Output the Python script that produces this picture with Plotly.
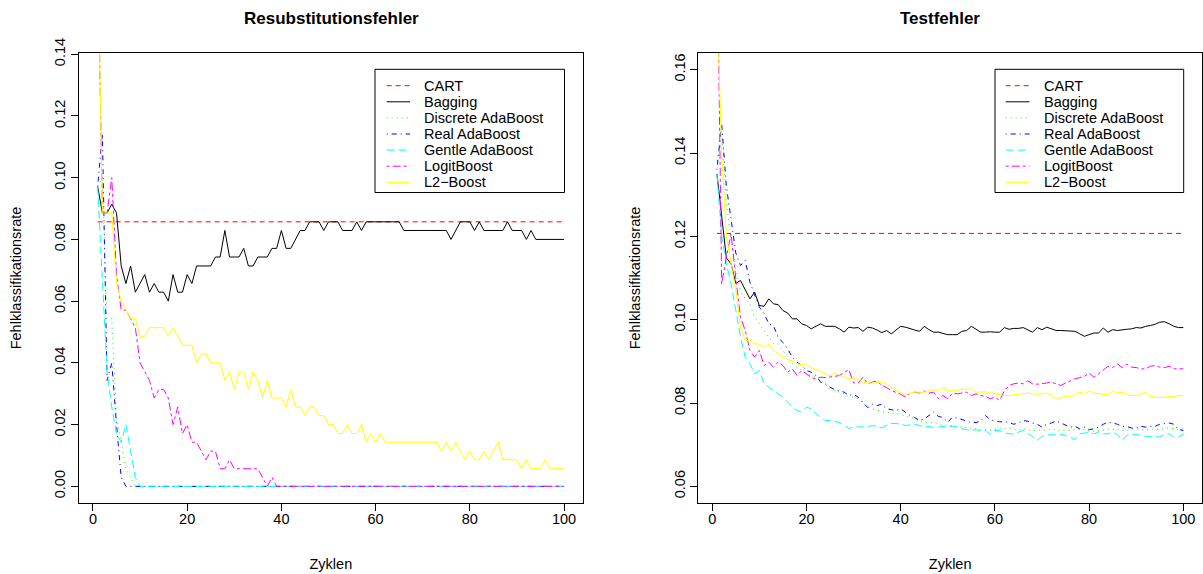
import plotly.graph_objects as go

# ---------------- data ----------------
zyklen = list(range(1, 101))
methods = ["CART", "Bagging", "Discrete AdaBoost", "Real AdaBoost",
           "Gentle AdaBoost", "LogitBoost", "L2\u2212Boost"]

cart_resub = 0.0857
cart_test = 0.1207

bagging_resub = [
    0.0971, 0.0886, 0.0886, 0.0914, 0.0886, 0.0714, 0.0657, 0.0714, 0.0629, 0.0657,
    0.0686, 0.0629, 0.0657, 0.0629, 0.0629, 0.0600, 0.0686, 0.0629, 0.0629, 0.0686,
    0.0657, 0.0714, 0.0714, 0.0714, 0.0714, 0.0743, 0.0743, 0.0829, 0.0743, 0.0743,
    0.0743, 0.0771, 0.0714, 0.0714, 0.0743, 0.0743, 0.0743, 0.0771, 0.0771, 0.0829,
    0.0771, 0.0771, 0.0800, 0.0829, 0.0829, 0.0857, 0.0857, 0.0857, 0.0829, 0.0857,
    0.0857, 0.0857, 0.0829, 0.0829, 0.0829, 0.0857, 0.0829, 0.0857, 0.0857, 0.0857,
    0.0857, 0.0857, 0.0857, 0.0857, 0.0857, 0.0829, 0.0829, 0.0829, 0.0829, 0.0829,
    0.0829, 0.0829, 0.0829, 0.0829, 0.0829, 0.0800, 0.0829, 0.0857, 0.0857, 0.0857,
    0.0829, 0.0857, 0.0829, 0.0829, 0.0829, 0.0829, 0.0829, 0.0857, 0.0829, 0.0829,
    0.0829, 0.0800, 0.0829, 0.0800, 0.0800, 0.0800, 0.0800, 0.0800, 0.0800, 0.0800]

discrete_resub = [
    0.0971, 0.1000, 0.0543, 0.0543, 0.0229, 0.0143, 0.0057, 0.0029, 0.0, 0.0,
    0.0, 0.0, 0.0, 0.0, 0.0, 0.0, 0.0, 0.0, 0.0, 0.0,
    0.0, 0.0, 0.0, 0.0, 0.0, 0.0, 0.0, 0.0, 0.0, 0.0,
    0.0, 0.0, 0.0, 0.0, 0.0, 0.0, 0.0, 0.0, 0.0, 0.0,
    0.0, 0.0, 0.0, 0.0, 0.0, 0.0, 0.0, 0.0, 0.0, 0.0,
    0.0, 0.0, 0.0, 0.0, 0.0, 0.0, 0.0, 0.0, 0.0, 0.0,
    0.0, 0.0, 0.0, 0.0, 0.0, 0.0, 0.0, 0.0, 0.0, 0.0,
    0.0, 0.0, 0.0, 0.0, 0.0, 0.0, 0.0, 0.0, 0.0, 0.0,
    0.0, 0.0, 0.0, 0.0, 0.0, 0.0, 0.0, 0.0, 0.0, 0.0,
    0.0, 0.0, 0.0, 0.0, 0.0, 0.0, 0.0, 0.0, 0.0, 0.0]

real_resub = [
    0.0971, 0.1143, 0.0343, 0.0400, 0.0200, 0.0029, 0.0, 0.0, 0.0, 0.0,
    0.0, 0.0, 0.0, 0.0, 0.0, 0.0, 0.0, 0.0, 0.0, 0.0,
    0.0, 0.0, 0.0, 0.0, 0.0, 0.0, 0.0, 0.0, 0.0, 0.0,
    0.0, 0.0, 0.0, 0.0, 0.0, 0.0, 0.0, 0.0, 0.0, 0.0,
    0.0, 0.0, 0.0, 0.0, 0.0, 0.0, 0.0, 0.0, 0.0, 0.0,
    0.0, 0.0, 0.0, 0.0, 0.0, 0.0, 0.0, 0.0, 0.0, 0.0,
    0.0, 0.0, 0.0, 0.0, 0.0, 0.0, 0.0, 0.0, 0.0, 0.0,
    0.0, 0.0, 0.0, 0.0, 0.0, 0.0, 0.0, 0.0, 0.0, 0.0,
    0.0, 0.0, 0.0, 0.0, 0.0, 0.0, 0.0, 0.0, 0.0, 0.0,
    0.0, 0.0, 0.0, 0.0, 0.0, 0.0, 0.0, 0.0, 0.0, 0.0]

gentle_resub = [
    0.0971, 0.0657, 0.0371, 0.0257, 0.0171, 0.0143, 0.0200, 0.0114, 0.0029, 0.0,
    0.0, 0.0, 0.0, 0.0, 0.0, 0.0, 0.0, 0.0, 0.0, 0.0,
    0.0, 0.0, 0.0, 0.0, 0.0, 0.0, 0.0, 0.0, 0.0, 0.0,
    0.0, 0.0, 0.0, 0.0, 0.0, 0.0, 0.0, 0.0, 0.0, 0.0,
    0.0, 0.0, 0.0, 0.0, 0.0, 0.0, 0.0, 0.0, 0.0, 0.0,
    0.0, 0.0, 0.0, 0.0, 0.0, 0.0, 0.0, 0.0, 0.0, 0.0,
    0.0, 0.0, 0.0, 0.0, 0.0, 0.0, 0.0, 0.0, 0.0, 0.0,
    0.0, 0.0, 0.0, 0.0, 0.0, 0.0, 0.0, 0.0, 0.0, 0.0,
    0.0, 0.0, 0.0, 0.0, 0.0, 0.0, 0.0, 0.0, 0.0, 0.0,
    0.0, 0.0, 0.0, 0.0, 0.0, 0.0, 0.0, 0.0, 0.0, 0.0]

logit_resub = [
    0.1750, 0.0886, 0.0886, 0.1000, 0.0686, 0.0571, 0.0571, 0.0543, 0.0514, 0.0400,
    0.0371, 0.0343, 0.0286, 0.0314, 0.0314, 0.0286, 0.0200, 0.0257, 0.0171, 0.0200,
    0.0143, 0.0143, 0.0114, 0.0086, 0.0114, 0.0114, 0.0057, 0.0057, 0.0086, 0.0057,
    0.0057, 0.0057, 0.0057, 0.0057, 0.0057, 0.0029, 0.0, 0.0029, 0.0, 0.0,
    0.0, 0.0, 0.0, 0.0, 0.0, 0.0, 0.0, 0.0, 0.0, 0.0,
    0.0, 0.0, 0.0, 0.0, 0.0, 0.0, 0.0, 0.0, 0.0, 0.0,
    0.0, 0.0, 0.0, 0.0, 0.0, 0.0, 0.0, 0.0, 0.0, 0.0,
    0.0, 0.0, 0.0, 0.0, 0.0, 0.0, 0.0, 0.0, 0.0, 0.0,
    0.0, 0.0, 0.0, 0.0, 0.0, 0.0, 0.0, 0.0, 0.0, 0.0,
    0.0, 0.0, 0.0, 0.0, 0.0, 0.0, 0.0, 0.0, 0.0, 0.0]

l2_resub = [
    0.1800, 0.0886, 0.0886, 0.0886, 0.0657, 0.0600, 0.0571, 0.0543, 0.0543, 0.0486,
    0.0486, 0.0514, 0.0514, 0.0514, 0.0514, 0.0486, 0.0514, 0.0486, 0.0457, 0.0457,
    0.0457, 0.0400, 0.0429, 0.0429, 0.0400, 0.0400, 0.0400, 0.0343, 0.0371, 0.0314,
    0.0371, 0.0371, 0.0314, 0.0371, 0.0343, 0.0286, 0.0343, 0.0286, 0.0286, 0.0286,
    0.0257, 0.0314, 0.0257, 0.0257, 0.0229, 0.0257, 0.0257, 0.0229, 0.0229, 0.0200,
    0.0200, 0.0171, 0.0171, 0.0200, 0.0171, 0.0171, 0.0200, 0.0143, 0.0171, 0.0143,
    0.0171, 0.0143, 0.0143, 0.0143, 0.0143, 0.0143, 0.0143, 0.0143, 0.0143, 0.0143,
    0.0143, 0.0143, 0.0143, 0.0114, 0.0143, 0.0114, 0.0143, 0.0114, 0.0086, 0.0114,
    0.0086, 0.0086, 0.0114, 0.0086, 0.0114, 0.0143, 0.0086, 0.0086, 0.0086, 0.0086,
    0.0057, 0.0086, 0.0057, 0.0057, 0.0057, 0.0086, 0.0057, 0.0057, 0.0057, 0.0057]

bagging_test = [
    0.1350, 0.1250, 0.1148, 0.1134, 0.1087, 0.1094, 0.1070, 0.1050, 0.1066, 0.1034,
    0.1032, 0.1050, 0.1038, 0.1036, 0.1022, 0.1016, 0.1002, 0.1002, 0.0990, 0.0986,
    0.0978, 0.0984, 0.0990, 0.0984, 0.0984, 0.0984, 0.0978, 0.0970, 0.0982, 0.0980,
    0.0981, 0.0972, 0.0982, 0.0980, 0.0975, 0.0969, 0.0974, 0.0966, 0.0975, 0.0984,
    0.0982, 0.0978, 0.0975, 0.0972, 0.0984, 0.0976, 0.0970, 0.0970, 0.0967, 0.0964,
    0.0964, 0.0964, 0.0972, 0.0974, 0.0984, 0.0976, 0.0970, 0.0970, 0.0971, 0.0970,
    0.0970, 0.0981, 0.0977, 0.0979, 0.0979, 0.0981, 0.0975, 0.0970, 0.0981, 0.0976,
    0.0982, 0.0978, 0.0974, 0.0974, 0.0973, 0.0973, 0.0972, 0.0966, 0.0960, 0.0964,
    0.0968, 0.0968, 0.0980, 0.0970, 0.0976, 0.0974, 0.0976, 0.0977, 0.0978, 0.0981,
    0.0980, 0.0984, 0.0986, 0.0989, 0.0994, 0.0995, 0.0990, 0.0984, 0.0981, 0.0981]

discrete_test = [
    0.1380, 0.1460, 0.1280, 0.1190, 0.1120, 0.1070, 0.1050, 0.1038, 0.1006, 0.0990,
    0.0974, 0.0958, 0.0942, 0.0942, 0.0926, 0.0910, 0.0894, 0.0886, 0.0878, 0.0870,
    0.0866, 0.0862, 0.0854, 0.0846, 0.0832, 0.0830, 0.0826, 0.0822, 0.0814, 0.0814,
    0.0810, 0.0800, 0.0790, 0.0786, 0.0782, 0.0781, 0.0778, 0.0776, 0.0774, 0.0773,
    0.0768, 0.0766, 0.0762, 0.0756, 0.0756, 0.0752, 0.0754, 0.0750, 0.0748, 0.0746,
    0.0746, 0.0744, 0.0742, 0.0740, 0.0740, 0.0738, 0.0736, 0.0736, 0.0735, 0.0736,
    0.0740, 0.0738, 0.0740, 0.0737, 0.0736, 0.0738, 0.0735, 0.0733, 0.0736, 0.0734,
    0.0736, 0.0738, 0.0735, 0.0733, 0.0735, 0.0734, 0.0736, 0.0738, 0.0736, 0.0733,
    0.0732, 0.0734, 0.0736, 0.0737, 0.0736, 0.0738, 0.0735, 0.0734, 0.0737, 0.0738,
    0.0736, 0.0735, 0.0737, 0.0738, 0.0736, 0.0739, 0.0740, 0.0738, 0.0736, 0.0738]

real_test = [
    0.1360, 0.1470, 0.1320, 0.1240, 0.1160, 0.1130, 0.1142, 0.1090, 0.1060, 0.1030,
    0.1015, 0.0990, 0.0985, 0.0958, 0.0945, 0.0930, 0.0910, 0.0898, 0.0890, 0.0878,
    0.0874, 0.0866, 0.0850, 0.0846, 0.0838, 0.0832, 0.0829, 0.0826, 0.0818, 0.0821,
    0.0814, 0.0802, 0.0789, 0.0797, 0.0794, 0.0797, 0.0786, 0.0784, 0.0782, 0.0786,
    0.0778, 0.0770, 0.0765, 0.0758, 0.0762, 0.0770, 0.0778, 0.0768, 0.0765, 0.0754,
    0.0766, 0.0764, 0.0760, 0.0757, 0.0753, 0.0753, 0.0757, 0.0770, 0.0760, 0.0757,
    0.0755, 0.0755, 0.0753, 0.0749, 0.0752, 0.0758, 0.0756, 0.0752, 0.0749, 0.0742,
    0.0749, 0.0752, 0.0757, 0.0752, 0.0746, 0.0742, 0.0744, 0.0738, 0.0742, 0.0736,
    0.0738, 0.0742, 0.0749, 0.0754, 0.0752, 0.0749, 0.0744, 0.0744, 0.0740, 0.0740,
    0.0744, 0.0742, 0.0744, 0.0744, 0.0749, 0.0750, 0.0752, 0.0749, 0.0736, 0.0734]

gentle_test = [
    0.1350, 0.1200, 0.1134, 0.1086, 0.1022, 0.0958, 0.0910, 0.0894, 0.0870, 0.0878,
    0.0846, 0.0838, 0.0830, 0.0822, 0.0814, 0.0802, 0.0790, 0.0782, 0.0778, 0.0790,
    0.0786, 0.0774, 0.0766, 0.0758, 0.0758, 0.0755, 0.0753, 0.0746, 0.0739, 0.0742,
    0.0742, 0.0742, 0.0743, 0.0746, 0.0744, 0.0740, 0.0747, 0.0751, 0.0750, 0.0750,
    0.0746, 0.0748, 0.0749, 0.0746, 0.0742, 0.0744, 0.0741, 0.0742, 0.0744, 0.0742,
    0.0744, 0.0742, 0.0738, 0.0736, 0.0734, 0.0736, 0.0733, 0.0734, 0.0725, 0.0734,
    0.0734, 0.0728, 0.0726, 0.0725, 0.0730, 0.0734, 0.0726, 0.0720, 0.0710, 0.0720,
    0.0722, 0.0725, 0.0725, 0.0725, 0.0722, 0.0718, 0.0712, 0.0726, 0.0728, 0.0730,
    0.0726, 0.0730, 0.0726, 0.0726, 0.0730, 0.0725, 0.0710, 0.0722, 0.0725, 0.0725,
    0.0722, 0.0720, 0.0720, 0.0720, 0.0718, 0.0725, 0.0726, 0.0718, 0.0718, 0.0726]

logit_test = [
    0.1950, 0.1086, 0.1150, 0.1206, 0.1100, 0.1006, 0.0974, 0.0926, 0.0910, 0.0926,
    0.0890, 0.0898, 0.0886, 0.0898, 0.0890, 0.0874, 0.0882, 0.0866, 0.0878, 0.0870,
    0.0861, 0.0858, 0.0862, 0.0861, 0.0862, 0.0864, 0.0866, 0.0874, 0.0880, 0.0848,
    0.0848, 0.0862, 0.0846, 0.0850, 0.0853, 0.0842, 0.0837, 0.0830, 0.0826, 0.0821,
    0.0814, 0.0824, 0.0826, 0.0824, 0.0829, 0.0824, 0.0826, 0.0810, 0.0818, 0.0810,
    0.0824, 0.0822, 0.0824, 0.0826, 0.0818, 0.0822, 0.0818, 0.0816, 0.0810, 0.0814,
    0.0806, 0.0829, 0.0842, 0.0846, 0.0848, 0.0846, 0.0853, 0.0846, 0.0845, 0.0846,
    0.0848, 0.0850, 0.0846, 0.0842, 0.0848, 0.0853, 0.0858, 0.0861, 0.0864, 0.0872,
    0.0862, 0.0870, 0.0878, 0.0888, 0.0885, 0.0894, 0.0885, 0.0893, 0.0886, 0.0885,
    0.0882, 0.0882, 0.0888, 0.0890, 0.0886, 0.0885, 0.0888, 0.0882, 0.0882, 0.0882]

l2_test = [
    0.1780, 0.1400, 0.1200, 0.1134, 0.1070, 0.0982, 0.0950, 0.0950, 0.0942, 0.0941,
    0.0934, 0.0941, 0.0926, 0.0918, 0.0910, 0.0904, 0.0902, 0.0894, 0.0892, 0.0891,
    0.0885, 0.0880, 0.0876, 0.0870, 0.0865, 0.0872, 0.0866, 0.0862, 0.0858, 0.0861,
    0.0856, 0.0850, 0.0848, 0.0848, 0.0850, 0.0850, 0.0845, 0.0837, 0.0830, 0.0824,
    0.0818, 0.0824, 0.0826, 0.0826, 0.0826, 0.0830, 0.0832, 0.0830, 0.0837, 0.0830,
    0.0829, 0.0830, 0.0834, 0.0832, 0.0834, 0.0826, 0.0826, 0.0827, 0.0824, 0.0822,
    0.0821, 0.0818, 0.0818, 0.0820, 0.0821, 0.0822, 0.0824, 0.0822, 0.0821, 0.0822,
    0.0824, 0.0818, 0.0809, 0.0813, 0.0816, 0.0814, 0.0821, 0.0826, 0.0822, 0.0829,
    0.0824, 0.0822, 0.0821, 0.0820, 0.0829, 0.0824, 0.0826, 0.0821, 0.0818, 0.0818,
    0.0821, 0.0826, 0.0816, 0.0814, 0.0813, 0.0814, 0.0816, 0.0816, 0.0817, 0.0819]

x_ticks = [0, 20, 40, 60, 80, 100]
y_ticks_resub = [0.00, 0.02, 0.04, 0.06, 0.08, 0.10, 0.12, 0.14]
y_ticks_test = [0.06, 0.08, 0.10, 0.12, 0.14, 0.16]

# ---------------- styles ----------------
colors = ["#FF0000", "#000000", "#00FF00", "#0000FF", "#00FFFF", "#FF00FF", "#FFFF00"]
dashes = ["5px,4px", "solid", "1px,4px", "1px,4px,5px,4px", "8px,4px",
          "3px,3px,8px,3px", "solid"]
FONT = "Liberation Sans, Arial, Helvetica, sans-serif"
FS = 14.5

W_FIG, H_FIG = 1203, 574
ML, MR, MT, MB = 79, 1, 53, 71
PW = W_FIG - ML - MR
PH = H_FIG - MT - MB


def pxx(p):
    return (p - ML) / PW


def pxy(p):
    return (H_FIG - MB - p) / PH


fig = go.Figure()

panels = [
    ("x", "y", cart_resub, [bagging_resub, discrete_resub, real_resub,
                            gentle_resub, logit_resub, l2_resub]),
    ("x2", "y2", cart_test, [bagging_test, discrete_test, real_test,
                             gentle_test, logit_test, l2_test]),
]

for xa, ya, cart, series in panels:
    fig.add_trace(go.Scatter(
        x=[zyklen[0], zyklen[-1]], y=[cart, cart], mode="lines", name=methods[0],
        line=dict(color=colors[0], width=1, dash=dashes[0]),
        xaxis=xa, yaxis=ya, showlegend=False, hoverinfo="skip"))
    for i, s in enumerate(series, start=1):
        fig.add_trace(go.Scatter(
            x=zyklen, y=s, mode="lines", name=methods[i],
            line=dict(color=colors[i], width=1, dash=dashes[i]),
            xaxis=xa, yaxis=ya, showlegend=False))

axis_common = dict(
    showgrid=False, zeroline=False, showline=True, mirror=True,
    linecolor="black", linewidth=1, ticks="outside", ticklen=7,
    tickwidth=1, tickcolor="black",
    tickfont=dict(family=FONT, size=FS, color="black"),
)

left_dom = [0, (582.7 - ML) / PW]
right_dom = [(698.3 - ML) / PW, 1]

xt = dict(text="Zyklen", standoff=32, font=dict(family=FONT, size=FS))
yt = dict(text="Fehlklassifikationsrate", standoff=27, font=dict(family=FONT, size=FS))

fig.update_layout(
    width=W_FIG, height=H_FIG,
    margin=dict(l=ML, r=MR, t=MT, b=MB),
    paper_bgcolor="white", plot_bgcolor="white",
    showlegend=False,
    font=dict(family=FONT, size=FS, color="black"),
    xaxis=dict(domain=left_dom, range=[-2.96, 103.96], tickvals=x_ticks,
               ticklabelstandoff=-4, title=xt, anchor="y", **axis_common),
    yaxis=dict(domain=[0, 1], range=[-0.0054, 0.1404], tickvals=y_ticks_resub,
               tickformat=".2f", tickangle=-90, title=yt,
               anchor="x", **axis_common),
    xaxis2=dict(domain=right_dom, range=[-2.96, 103.96], tickvals=x_ticks,
                ticklabelstandoff=-4, title=xt, anchor="y2", **axis_common),
    yaxis2=dict(domain=[0, 1], range=[0.056, 0.164], tickvals=y_ticks_test,
                tickformat=".2f", tickangle=-90, title=yt,
                anchor="x2", **axis_common),
)

# titles
fig.add_annotation(text="<b>Resubstitutionsfehler</b>", xref="paper", yref="paper",
                   x=pxx(331.5), y=pxy(18), xanchor="center", yanchor="middle",
                   showarrow=False, font=dict(family=FONT, size=17, color="black"))
fig.add_annotation(text="<b>Testfehler</b>", xref="paper", yref="paper",
                   x=pxx(940), y=pxy(18), xanchor="center", yanchor="middle",
                   showarrow=False, font=dict(family=FONT, size=17, color="black"))

# legends (drawn as in the R plot: box, line samples, labels)
legend_boxes = [(375.0, 564.5, 422.3, 386.7, 410.0),
                (995.0, 1183.7, 1041.5, 1005.7, 1029.5)]
row_y0, row_dy = 85.7, 16.1
box_top, box_bot = 69.3, 192.5
for (bx0, bx1, tx, lx0, lx1) in legend_boxes:
    fig.add_shape(type="rect", xref="paper", yref="paper",
                  x0=pxx(bx0), x1=pxx(bx1), y0=pxy(box_bot), y1=pxy(box_top),
                  line=dict(color="black", width=1), fillcolor="white", layer="above")
    for i, name in enumerate(methods):
        yy = row_y0 + i * row_dy
        fig.add_shape(type="line", xref="paper", yref="paper",
                      x0=pxx(lx0), x1=pxx(lx1), y0=pxy(yy), y1=pxy(yy),
                      line=dict(color=colors[i], width=1, dash=dashes[i]),
                      layer="above")
        fig.add_annotation(text=name, xref="paper", yref="paper",
                           x=pxx(tx), y=pxy(yy), xanchor="left", yanchor="middle",
                           showarrow=False,
                           font=dict(family=FONT, size=FS, color="black"))

fig.write_html("out.html", include_plotlyjs=True, full_html=True,
               config={"displayModeBar": False},
               post_script="document.body.style.margin='0';document.body.style.overflow='hidden';")
